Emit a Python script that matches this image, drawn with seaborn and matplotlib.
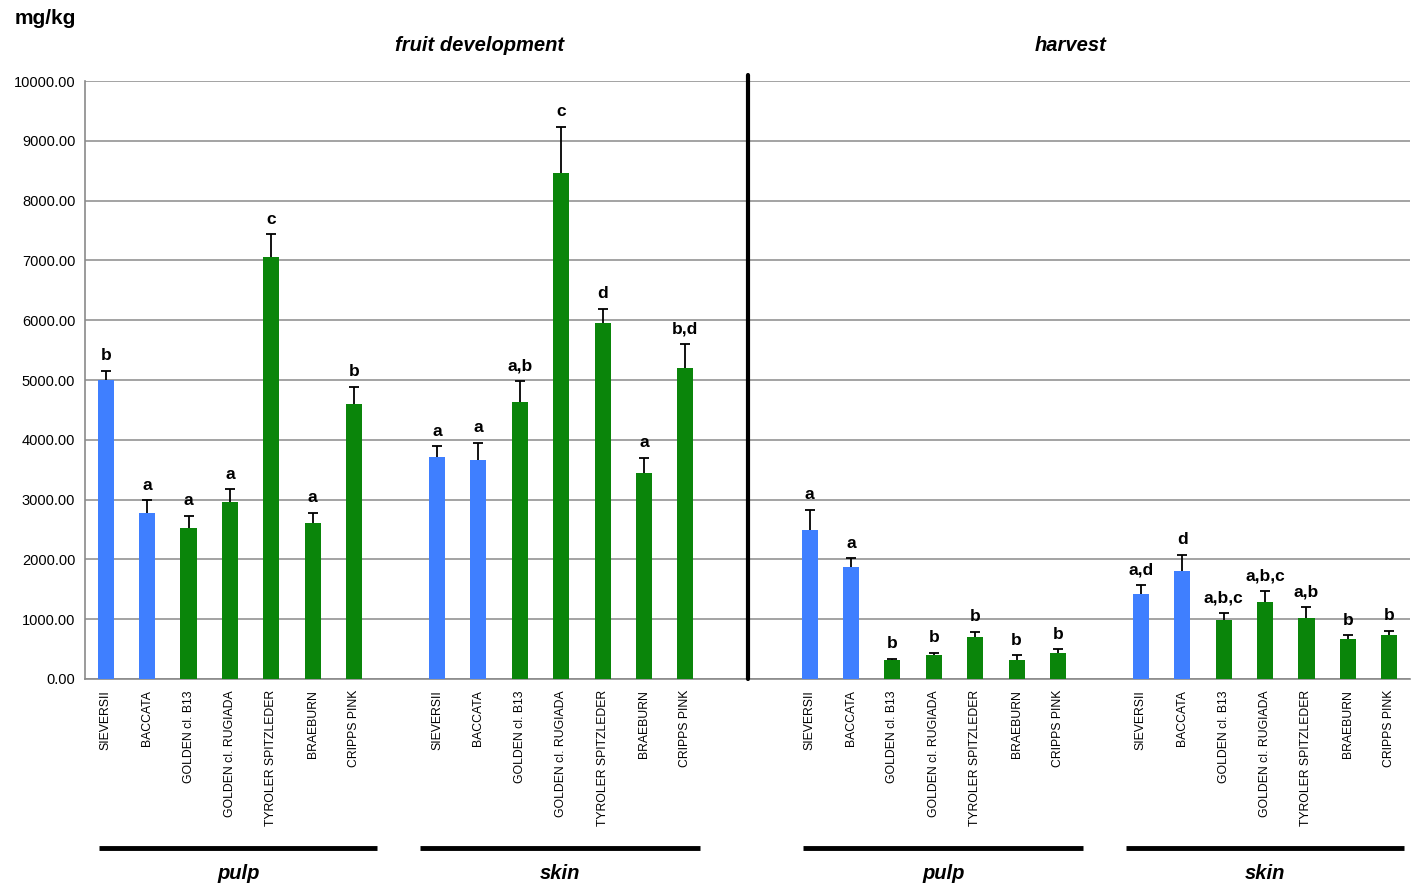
import matplotlib
matplotlib.use("Agg")
import matplotlib.pyplot as plt
import matplotlib.transforms as mtransforms
import numpy as np
import pandas as pd
import seaborn as sns

# Apple accessions / cultivars
cultivars = ["SIEVERSII", "BACCATA", "GOLDEN cl. B13", "GOLDEN cl. RUGIADA",
             "TYROLER SPITZLEDER", "BRAEBURN", "CRIPPS PINK"]
kinds = ["wild", "wild", "cultivated", "cultivated", "cultivated", "cultivated", "cultivated"]

# Means (mg/kg) and upper standard errors per stage / tissue
dev_pulp_mean = [5000, 2770, 2520, 2965, 7057, 2614, 4604]
dev_pulp_err = [155, 222, 211, 207, 379, 167, 284]
dev_skin_mean = [3716, 3664, 4632, 8456, 5951, 3447, 5202]
dev_skin_err = [173, 289, 346, 782, 244, 256, 403]
harv_pulp_mean = [2494, 1867, 317, 394, 706, 317, 433]
harv_pulp_err = [339, 150, 22, 45, 83, 77, 61]
harv_skin_mean = [1422, 1811, 989, 1289, 1022, 667, 733]
harv_skin_err = [156, 267, 111, 178, 184, 66, 78]

# Significance letters
dev_pulp_sig = ["b", "a", "a", "a", "c", "a", "b"]
dev_skin_sig = ["a", "a", "a,b", "c", "d", "a", "b,d"]
harv_pulp_sig = ["a", "a", "b", "b", "b", "b", "b"]
harv_skin_sig = ["a,d", "d", "a,b,c", "a,b,c", "a,b", "b", "b"]

stages = ["fruit development", "harvest"]
tissues = ["pulp", "skin"]

groups = [
    ("dev", "pulp", dev_pulp_mean, dev_pulp_err, dev_pulp_sig),
    ("dev", "skin", dev_skin_mean, dev_skin_err, dev_skin_sig),
    ("harv", "pulp", harv_pulp_mean, harv_pulp_err, harv_pulp_sig),
    ("harv", "skin", harv_skin_mean, harv_skin_err, harv_skin_sig),
]
# number of empty slots after each group
gaps_after = [1, 2, 1, 0]

order = []
rows = []
for (stage, tissue, means, errs, sigs), gap in zip(groups, gaps_after):
    for name, kind, m, e, s in zip(cultivars, kinds, means, errs, sigs):
        key = f"{stage}|{tissue}|{name}"
        order.append(key)
        rows.append(dict(slot=key, name=name, kind=kind, value=m, err=e, sig=s))
    for g in range(gap):
        order.append(f"{stage}|{tissue}|gap{g}")
df = pd.DataFrame(rows)

sns.set_style("white")
plt.rcParams["font.family"] = ["Liberation Sans", "DejaVu Sans"]
plt.rcParams["text.color"] = "black"
plt.rcParams["xtick.labelcolor"] = "black"
plt.rcParams["ytick.labelcolor"] = "black"

GRID = "#8a8a8a"
palette = {"wild": "#3f7fff", "cultivated": "#0a850a"}

fig = plt.figure(figsize=(14.18, 8.86), dpi=100)
ax = fig.add_axes([85 / 1418, 1 - 679 / 886, (1410 - 85) / 1418, (679 - 81) / 886])

sns.barplot(data=df, x="slot", y="value", hue="kind", order=order,
            palette=palette, dodge=False, width=0.39, legend=False,
            errorbar=None, saturation=1, linewidth=0, ax=ax, zorder=3)

# upper error bars: stem from bar top plus a cap
pos = np.array([order.index(s) for s in df["slot"]])
tops = df["value"].to_numpy() + df["err"].to_numpy()
ax.vlines(pos, df["value"], tops, color="black", linewidth=1.3, zorder=4)
ax.plot(pos, tops, linestyle="none", marker="_", markersize=6.5,
        markeredgewidth=1.3, color="black", zorder=4)

for x, top, s in zip(pos, tops, df["sig"]):
    ax.annotate(s, (x, top), xytext=(0, 7.5), textcoords="offset points",
                ha="center", va="baseline", fontsize=12.5, fontweight="bold",
                color="black")

ax.set_xlim(-0.5, len(order) - 0.5)
ax.set_ylim(0, 10000)
ax.set_yticks(np.arange(0, 10001, 1000))
ax.set_yticklabels([f"{v:.2f}" for v in np.arange(0, 10001, 1000)])
ax.yaxis.grid(True, color=GRID, linewidth=1.1)
ax.set_axisbelow(True)

labels = [s.split("|")[2] if "gap" not in s else "" for s in order]
ax.set_xticks(range(len(order)))
ax.set_xticklabels(labels, rotation=90, fontsize=8.8, va="top")
ax.set_xticks(np.arange(-0.5, len(order)), minor=True)
ax.tick_params(axis="x", which="major", length=0, pad=8)
ax.tick_params(axis="x", which="minor", length=4, width=1, color=GRID,
               direction="out")
ax.tick_params(axis="y", length=4, width=1, color=GRID, direction="out",
               labelsize=10.5, pad=3)
ax.set_xlabel("")
ax.set_ylabel("")

for side in ["top", "right"]:
    ax.spines[side].set_visible(False)
for side in ["left", "bottom"]:
    ax.spines[side].set_color(GRID)
    ax.spines[side].set_linewidth(1.2)

# separator between the two sampling stages
sep = order.index("harv|pulp|SIEVERSII") - 1.5
ax.axvline(sep, ymin=0, ymax=1.01, color="black", linewidth=3, clip_on=False,
           zorder=5)

trans = mtransforms.blended_transform_factory(ax.transData, ax.transAxes)
spans = [(-0.15, 6.55), (7.6, 14.35), (16.85, 23.6), (24.65, 31.35)]
for (stage, tissue, *_), (x0, x1) in zip(groups, spans):
    ax.plot([x0, x1], [-0.2826, -0.2826], transform=trans, color="black",
            linewidth=3.5, clip_on=False, solid_capstyle="butt")
    ax.text((x0 + x1) / 2, -0.326, tissue, transform=trans, ha="center",
            va="center", fontsize=14.5, fontweight="bold", style="italic")

stage_x = [9.04, 23.3]
for st, xc in zip(stages, stage_x):
    ax.text(xc, 1.059, st, transform=trans, ha="center", va="center",
            fontsize=14.5, fontweight="bold", style="italic")

fig.text(15 / 1418, 1 - 19 / 886, "mg/kg", ha="left", va="center",
         fontsize=15, fontweight="bold")

fig.savefig("out.png", dpi=100)
